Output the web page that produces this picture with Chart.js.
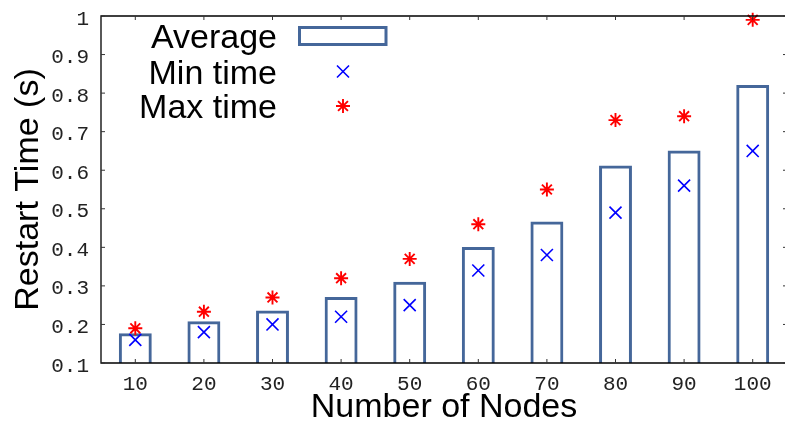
<!DOCTYPE html>
<html>
<head>
<meta charset="utf-8">
<script src="https://cdn.jsdelivr.net/npm/chart.js@4/dist/chart.umd.min.js"></script>
<style>
  html, body { margin: 0; padding: 0; background: #fff; overflow: hidden; }
  #wrap { width: 785px; height: 427px; overflow: hidden; }
  canvas { display: block; }
</style>
</head>
<body>
<div id="wrap"><canvas id="c" width="787" height="427"></canvas></div>
<script>
// Restart time measurements per cluster size
const nodeCounts = ['10', '20', '30', '40', '50', '60', '70', '80', '90', '100'];
const averageTime = [0.177, 0.208, 0.236, 0.271, 0.311, 0.401, 0.467, 0.612, 0.651, 0.821];
const minTime     = [0.16, 0.18, 0.20, 0.22, 0.25, 0.34, 0.38, 0.49, 0.56, 0.65];
const maxTime     = [0.19, 0.233, 0.27, 0.32, 0.37, 0.46, 0.55, 0.73, 0.74, 0.99];

const BAR_COLOR = '#45679a';
const SANS = '"Liberation Sans", Arial, sans-serif';
const MONO = '"Liberation Mono", "Courier New", monospace';

// Fixed axis boxes; label overhang must not shrink the plot area
function fixBox(size) {
  return (s) => {
    if (s.isHorizontal()) s.height = size; else s.width = size;
    s.paddingTop = 0; s.paddingBottom = 0;
    s.paddingLeft = 0; s.paddingRight = 0;
  };
}

// Closed frame with inward tick marks on all four sides
const framePlugin = {
  id: 'frame',
  afterDraw(chart) {
    const { ctx, chartArea: a, scales } = chart;
    const tl = 4;
    ctx.save();
    ctx.strokeStyle = '#000';
    ctx.lineWidth = 1.3;
    ctx.beginPath();
    ctx.moveTo(a.right, a.top); ctx.lineTo(a.left, a.top);
    ctx.lineTo(a.left, a.bottom); ctx.lineTo(a.right, a.bottom);
    ctx.lineTo(a.right, a.top);
    ctx.stroke();
    ctx.lineWidth = 1;
    ctx.strokeStyle = '#333';
    ctx.beginPath();
    scales.y.ticks.forEach((t) => {
      const y = scales.y.getPixelForValue(t.value);
      ctx.moveTo(a.left, y); ctx.lineTo(a.left + tl, y);
      ctx.moveTo(a.right, y); ctx.lineTo(a.right - tl, y);
    });
    scales.x.ticks.forEach((t, i) => {
      const x = scales.x.getPixelForTick(i);
      ctx.moveTo(x, a.bottom); ctx.lineTo(x, a.bottom - tl);
      ctx.moveTo(x, a.top); ctx.lineTo(x, a.top + tl);
    });
    ctx.stroke();
    ctx.restore();
  }
};

// Key in the upper left: right-aligned labels with their symbols
const keyPlugin = {
  id: 'key',
  afterDraw(chart) {
    const { ctx } = chart;
    const ds = chart.data.datasets;
    const textRight = 277;
    const symX = 343;
    const rows = [36, 71.5, 106];
    ctx.save();
    ctx.font = '34px ' + SANS;
    ctx.fillStyle = '#000';
    ctx.textAlign = 'right';
    ctx.textBaseline = 'alphabetic';
    ds.forEach((d, i) => {
      const cy = rows[i];
      ctx.fillText(d.label, textRight, cy + 12);
      if (d.type === 'bar') {
        ctx.strokeStyle = d.borderColor;
        ctx.lineWidth = d.borderWidth;
        ctx.strokeRect(299.5, cy - 8.5, 86.5, 17);
      } else {
        ctx.strokeStyle = d.pointBorderColor;
        ctx.lineWidth = d.pointBorderWidth;
        const r = d.pointRadius;
        const q = r * Math.SQRT1_2;
        ctx.beginPath();
        ctx.moveTo(symX - q, cy - q); ctx.lineTo(symX + q, cy + q);
        ctx.moveTo(symX + q, cy - q); ctx.lineTo(symX - q, cy + q);
        if (d.pointStyle === 'star') {
          ctx.moveTo(symX - r, cy); ctx.lineTo(symX + r, cy);
          ctx.moveTo(symX, cy - r); ctx.lineTo(symX, cy + r);
        }
        ctx.stroke();
      }
    });
    ctx.restore();
  }
};

new Chart(document.getElementById('c'), {
  type: 'bar',
  data: {
    labels: nodeCounts,
    datasets: [
      {
        type: 'bar',
        label: 'Average',
        data: averageTime,
        backgroundColor: 'rgba(255,255,255,0)',
        borderColor: BAR_COLOR,
        borderWidth: 3,
        borderSkipped: false,
        barPercentage: 0.48,
        categoryPercentage: 1.0,
        order: 3
      },
      {
        type: 'line',
        label: 'Min time',
        data: minTime,
        showLine: false,
        pointStyle: 'crossRot',
        pointRadius: 8.5,
        pointBorderColor: '#0000ff',
        pointBackgroundColor: '#0000ff',
        pointBorderWidth: 1.6,
        clip: false,
        order: 2
      },
      {
        type: 'line',
        label: 'Max time',
        data: maxTime,
        showLine: false,
        pointStyle: 'star',
        pointRadius: 7,
        pointBorderColor: '#ff0000',
        pointBackgroundColor: '#ff0000',
        pointBorderWidth: 1.9,
        clip: false,
        order: 1
      }
    ]
  },
  options: {
    responsive: false,
    animation: false,
    events: [],
    layout: { autoPadding: false, padding: { top: 16, left: 0, right: 0, bottom: 0 } },
    plugins: {
      legend: { display: false },
      tooltip: { enabled: false },
      title: { display: false }
    },
    scales: {
      x: {
        type: 'category',
        offset: true,
        grid: { display: false, drawTicks: false },
        border: { display: false },
        ticks: {
          color: '#222',
          font: { family: MONO, size: 21 },
          padding: 9,
          maxRotation: 0,
          autoSkip: false
        },
        title: {
          display: true,
          text: 'Number of Nodes',
          color: '#000',
          font: { family: SANS, size: 34, lineHeight: 1 },
          padding: { top: 0, bottom: 2 }
        },
        afterFit: fixBox(64)
      },
      y: {
        type: 'linear',
        min: 0.1,
        max: 1,
        grid: { display: false, drawTicks: false },
        border: { display: false },
        ticks: {
          stepSize: 0.1,
          color: '#222',
          font: { family: MONO, size: 21 },
          padding: 12,
          labelOffset: 3,
          callback: (v) => String(Number(v.toFixed(1)))
        },
        title: {
          display: true,
          text: 'Restart Time (s)',
          color: '#000',
          font: { family: SANS, size: 34, lineHeight: 1 },
          padding: { top: 12, bottom: 0 }
        },
        afterFit: fixBox(101)
      }
    }
  },
  plugins: [framePlugin, keyPlugin]
});
</script>
</body>
</html>
